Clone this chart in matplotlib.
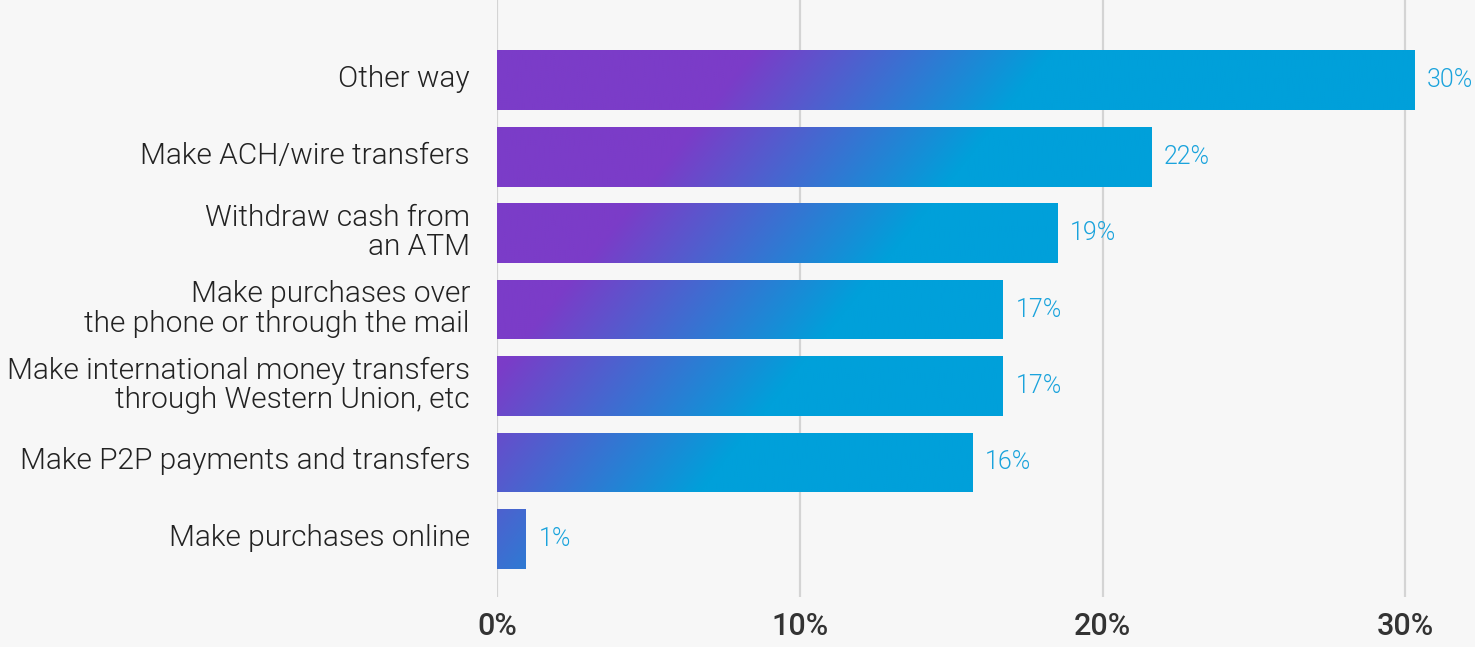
import numpy as np
import matplotlib
matplotlib.use("Agg")
import matplotlib.pyplot as plt
from matplotlib.colors import LinearSegmentedColormap
from matplotlib.transforms import ScaledTranslation

# ---------------------------------------------------------------------------
# Data
# ---------------------------------------------------------------------------
categories = [
    "Other way",
    "Make ACH/wire transfers",
    "Withdraw cash from\nan ATM",
    "Make purchases over\nthe phone or through the mail",
    "Make international money transfers\nthrough Western Union, etc",
    "Make P2P payments and transfers",
    "Make purchases online",
]
values = [30.3, 21.6, 18.5, 16.7, 16.7, 15.7, 0.95]
value_labels = ["30%", "22%", "19%", "17%", "17%", "16%", "1%"]
xticks = [0, 10, 20, 30]
xtick_labels = ["0%", "10%", "20%", "30%"]

# ---------------------------------------------------------------------------
# Plot
# ---------------------------------------------------------------------------
bg = "#f7f7f7"
purple = "#7b3cc8"
blue = "#00a0da"
label_font = ["Roboto", "DejaVu Sans"]

fig = plt.figure(figsize=(14.75, 6.47), dpi=100, facecolor=bg)
ax = fig.add_axes([497 / 1475, 1 - 597 / 647, 1 - 497 / 1475, 597 / 647])
ax.set_facecolor(bg)

y = np.arange(len(categories))
bars = ax.barh(y, values, height=0.78, color="none", zorder=3)

xmax, ytop, ybot = 32.3, -1.05, len(categories) - 1 + 0.76

# diagonal purple -> blue gradient, clipped to each bar
cmap = LinearSegmentedColormap.from_list("pb", [purple, blue])
GX, GY = np.meshgrid(np.linspace(0, xmax, 600), np.linspace(ytop, ybot, 300))
t = np.clip((GX - 7.7 + 2.02 * GY) / 9.9, 0, 1)
for b in bars:
    im = ax.imshow(t, cmap=cmap, vmin=0, vmax=1, aspect="auto",
                   extent=[0, xmax, ybot, ytop], origin="upper",
                   interpolation="bilinear", zorder=3)
    im.set_clip_path(b)
ax.set_xlim(0, xmax)
ax.set_ylim(ybot, ytop)

for yi, v, lab in zip(y, values, value_labels):
    ax.text(v + 0.42, yi, lab, va="center", ha="left", color="#1aa3dc",
            fontsize=18, family=label_font, fontweight=300, zorder=4)

ax.set_yticks(y)
ax.set_yticklabels(categories, fontsize=21.5, color="#222222",
                   family=label_font, fontweight=300, linespacing=1.05)
ax.tick_params(axis="y", length=0, pad=19.5)
shift = ScaledTranslation(0, 3 / 72, fig.dpi_scale_trans)
for lbl in ax.get_yticklabels():
    lbl.set_transform(lbl.get_transform() + shift)

ax.set_xticks(xticks)
ax.set_xticklabels(xtick_labels, fontsize=22, color="#333333",
                   family=label_font, fontweight=500)
ax.tick_params(axis="x", length=0, pad=11)

ax.grid(axis="x", color="#d4d4d4", lw=1.6, zorder=0)
for s in ax.spines.values():
    s.set_visible(False)

fig.savefig("out.png", dpi=100, facecolor=bg)
